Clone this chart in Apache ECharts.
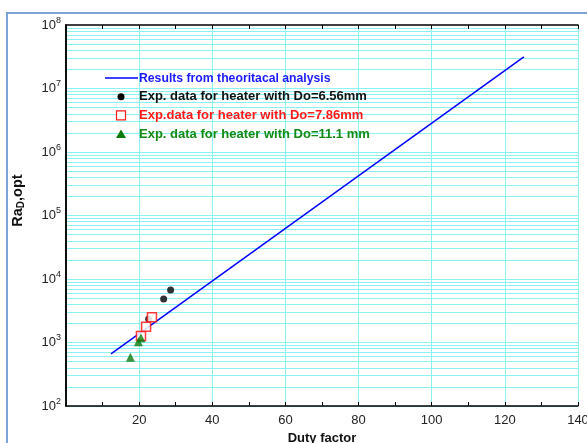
<!DOCTYPE html>
<html><head><meta charset="utf-8">
<script src="https://cdn.jsdelivr.net/npm/echarts@6/dist/echarts.min.js"></script>
<style>html,body{margin:0;padding:0;background:#fff}#c{width:587px;height:443px}</style>
</head><body><div id="c"></div>
<script>
// Theoretical line (end points, straight line on log-lin axes)
const theoryX = [12.3, 125.2];
const theoryY = [660, 31500000];
// Exp. data Do=6.56mm
const d656X = [22.6, 26.7, 28.6];
const d656Y = [2350, 4840, 6710];
// Exp. data Do=7.86mm
const d786X = [20.5, 21.9, 23.5];
const d786Y = [1265, 1775, 2490];
// Exp. data Do=11.1mm
const d111X = [17.6, 19.8, 20.5];
const d111Y = [585, 1030, 1190];
const xTicks = [0, 20, 40, 60, 80, 100, 120, 140];
const yDecades = [2, 3, 4, 5, 6, 7, 8];

const names = ['Results from theoritacal analysis', 'Exp. data for heater with Do=6.56mm', 'Exp.data for heater with Do=7.86mm', 'Exp. data for heater with Do=11.1 mm'];
const legendColors = ['#1a1aff', '#111111', '#ff1a1a', '#138a13'];

const zip = (xs, ys) => xs.map((x, i) => [x, ys[i]]);
// log minor gridline positions (1..9 within each decade)
const gridVals = [];
for (let d = yDecades[0]; d < yDecades[yDecades.length - 1]; d++) for (let m = 1; m <= 9; m++) gridVals.push(m * Math.pow(10, d));
const gridCol = '#8af2f2';
const FONT = 'Liberation Sans, Arial';

// legend drawn as graphic elements
const LX = 105, LY = 78, LS = 18.7, TX = 139;
const legendGraphics = [];
legendGraphics.push({type: 'line', shape: {x1: LX, y1: LY, x2: LX + 33, y2: LY}, style: {stroke: '#0000ff', lineWidth: 1.5}, z: 100});
legendGraphics.push({type: 'circle', shape: {cx: LX + 16, cy: LY + LS, r: 3.5}, style: {fill: '#000'}, z: 100});
legendGraphics.push({type: 'rect', shape: {x: LX + 16 - 4.5, y: LY + 2 * LS - 4.5, width: 9, height: 9}, style: {fill: '#fff', stroke: '#ff1a1a', lineWidth: 1.2}, z: 100});
legendGraphics.push({type: 'polygon', shape: {points: [[LX + 16, LY + 3 * LS - 4.5], [LX + 11, LY + 3 * LS + 4], [LX + 21, LY + 3 * LS + 4]]}, style: {fill: '#0a7a0a'}, z: 100});
names.forEach((n, i) => legendGraphics.push({type: 'text', x: TX, y: LY + i * LS, z: 100,
  scaleX: i === 0 ? 0.94 : 1,
  style: {text: n, fill: legendColors[i], font: 'bold 13px ' + FONT, verticalAlign: 'middle'}}));

const chart = echarts.init(document.getElementById('c'));
chart.setOption({
  animation: false,
  graphic: [{type: 'rect', shape: {x: 7, y: 13, width: 600, height: 460}, style: {fill: 'none', stroke: '#7ba4d8', lineWidth: 2}, z: -10}].concat(legendGraphics),
  grid: {left: 66, right: 9, top: 25, bottom: 37, containLabel: false, outerBoundsMode: 'none'},
  xAxis: [{
    type: 'value', min: xTicks[0], max: xTicks[xTicks.length - 1], interval: 20,
    name: 'Duty factor', nameLocation: 'middle', nameGap: 23,
    nameTextStyle: {fontFamily: FONT, fontWeight: 'bold', fontSize: 13, color: '#111'},
    axisLine: {lineStyle: {color: '#000', width: 1.5}},
    axisTick: {inside: true, length: 4, lineStyle: {color: '#000'}},
    minorTick: {show: true, splitNumber: 2, length: 4, lineStyle: {color: '#000'}},
    axisLabel: {fontFamily: FONT, fontSize: 13, color: '#222', margin: 8,
      formatter: v => (v === 0 ? '' : String(v))},
    splitLine: {show: true, lineStyle: {color: gridCol, width: 1}}
  }, {
    type: 'value', position: 'top', min: xTicks[0], max: xTicks[xTicks.length - 1], interval: 20,
    axisLine: {show: true, lineStyle: {color: '#000', width: 1.5}},
    axisTick: {inside: true, length: 4, lineStyle: {color: '#000'}},
    minorTick: {show: true, splitNumber: 2, length: 4, lineStyle: {color: '#000'}},
    axisLabel: {show: false}, splitLine: {show: false}
  }],
  yAxis: [{
    type: 'log', logBase: 10, min: Math.pow(10, yDecades[0]), max: Math.pow(10, yDecades[yDecades.length - 1]),
    name: '{a|Ra}{d|D}{a|,opt}', nameLocation: 'middle', nameGap: 40,
    nameTextStyle: {rich: {
      a: {fontFamily: FONT, fontWeight: 'bold', fontSize: 14.5, color: '#111'},
      d: {fontFamily: FONT, fontWeight: 'bold', fontSize: 10, color: '#111', padding: [7, 0, 0, 0]}
    }, padding: [0, 0, 0, 30]},
    axisLine: {lineStyle: {color: '#000', width: 1.5}},
    axisTick: {show: false},
    splitLine: {show: false},
    axisLabel: {margin: 5, formatter: v => '{b|10}{s|' + Math.round(Math.log10(v)) + '}',
      rich: {
        b: {fontFamily: FONT, fontSize: 13, color: '#222'},
        s: {fontFamily: FONT, fontSize: 9, color: '#222', padding: [0, 0, 9, 0]}
      }}
  }, {
    type: 'log', logBase: 10, position: 'right', min: Math.pow(10, yDecades[0]), max: Math.pow(10, yDecades[yDecades.length - 1]),
    axisLine: {show: true, lineStyle: {color: '#000', width: 1.5}},
    axisTick: {show: false}, axisLabel: {show: false}, splitLine: {show: false}
  }],
  series: [
    {type: 'scatter', data: [], silent: true, z: 0,
      markLine: {silent: true, symbol: 'none', z: 0, label: {show: false}, animation: false,
        lineStyle: {color: gridCol, width: 1, type: 'solid'},
        data: gridVals.map(v => ({yAxis: v}))}},
    {name: names[0], type: 'line', data: zip(theoryX, theoryY), showSymbol: false, symbol: 'none',
      lineStyle: {color: '#0000ff', width: 1.5}, itemStyle: {color: '#0000ff'}, z: 10},
    {name: names[1], type: 'scatter', data: zip(d656X, d656Y), symbol: 'circle', symbolSize: 7,
      itemStyle: {color: '#000'}, z: 11},
    {name: names[2], type: 'scatter', data: zip(d786X, d786Y), symbol: 'rect', symbolSize: 9,
      itemStyle: {color: '#fff', borderColor: '#ff1a1a', borderWidth: 1.5, opacity: 0.85}, z: 12},
    {name: names[3], type: 'scatter', data: zip(d111X, d111Y), symbol: 'triangle', symbolSize: 9,
      itemStyle: {color: '#0a7a0a'}, z: 13}
  ]
});
</script></body></html>
